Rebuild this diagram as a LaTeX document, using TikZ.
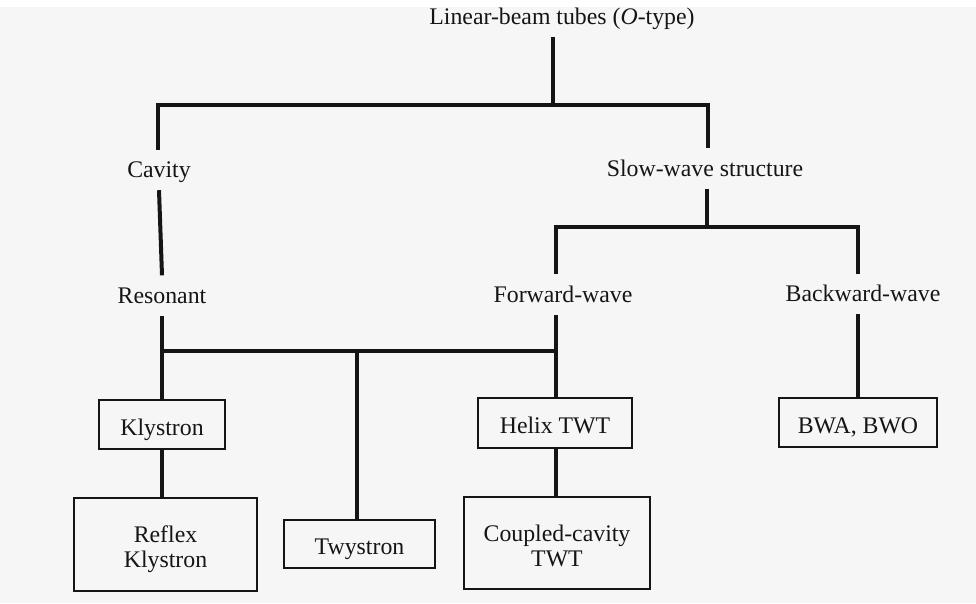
\documentclass[tikz,border=0pt]{standalone}
\usepackage{fontspec}
\setmainfont{Liberation Serif}
\definecolor{bg}{HTML}{F6F6F6}
\definecolor{ink}{HTML}{151515}
\begin{document}
\begin{tikzpicture}[x=1pt,y=-1pt,
  lbl/.style={inner sep=0pt, minimum height=40pt, text height=15.7pt, text depth=0pt,
    text=ink, font=\fontsize{23.8}{25}\selectfont},
  box/.style={draw=ink, line width=2.4pt, inner sep=0pt, align=center, text=ink,
    font=\fontsize{23.8}{25}\selectfont},
  onebox/.style={box, text height=21.5pt, text depth=0pt},
  twobox/.style={box, text height=46.8pt, text depth=0pt},
  conn/.style={draw=ink, line width=4pt}]
\fill[bg] (0,0) rectangle (976,603);
\fill[white] (0,0) rectangle (976,7);
\useasboundingbox (0,0) rectangle (976,603);

% text labels
\node[lbl] (title) at (562,16.5) {Linear-beam tubes (\textit{O}-type)};
\node[lbl] (cavity) at (159,170) {Cavity};
\node[lbl] (slow) at (705,168.5) {Slow-wave structure};
\node[lbl] (resonant) at (162,295.5) {Resonant};
\node[lbl] (forward) at (563,294.5) {Forward-wave};
\node[lbl] (backward) at (863,294) {Backward-wave};

% boxes
\node[onebox, minimum width=126pt, minimum height=49pt] (klystron) at (162,424.5) {Klystron};
\node[onebox, minimum width=154pt, minimum height=50pt] (helix) at (555,423) {Helix TWT};
\node[onebox, minimum width=158pt, minimum height=49pt] (bwa) at (858,422.5) {BWA, BWO};
\node[twobox, minimum width=183pt, minimum height=93pt] (reflex) at (165.5,544.5) {Reflex\\Klystron};
\node[onebox, minimum width=151pt, minimum height=48pt] (twystron) at (359.5,544) {Twystron};
\node[twobox, minimum width=186pt, minimum height=92pt] (coupled) at (557,543) {Coupled-cavity\\TWT};

% junction coordinates
\coordinate (j0) at (553,105);
\coordinate (tl) at (158,105);
\coordinate (tr) at (708,105);
\coordinate (j1) at (707,227);
\coordinate (sl) at (556,227);
\coordinate (sr) at (858,227);
\coordinate (rl) at (162,351);
\coordinate (rm) at (357,351);
\coordinate (rr) at (556,351);

% connectors
\draw[conn] (j0 |- title.south) -- (j0);
\draw[conn] (tl |- cavity.north) -- (tl) -- (tr) -- (tr |- slow.north);
\draw[conn] (cavity.south) -- (resonant.north);
\draw[conn] (j1 |- slow.south) -- (j1);
\draw[conn] (sl |- forward.north) -- (sl) -- (sr) -- (sr |- backward.north);
\draw[conn] (resonant.south) -- (klystron.north);
\draw[conn] (rl) -- (rr);
\draw[conn] (rr |- forward.south) -- (rr |- helix.north);
\draw[conn] (rm) -- (rm |- twystron.north);
\draw[conn] (sr |- backward.south) -- (sr |- bwa.north);
\draw[conn] (klystron.south) -- (klystron.south |- reflex.north);
\draw[conn] (rr |- helix.south) -- (rr |- coupled.north);
\end{tikzpicture}
\end{document}
